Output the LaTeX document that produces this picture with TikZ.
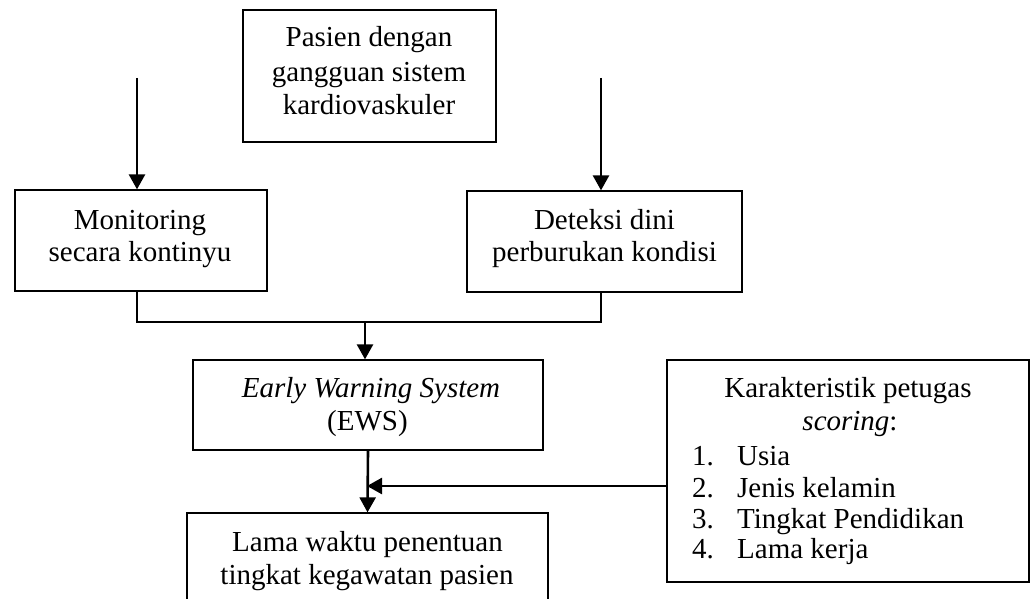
\documentclass[tikz,border=0pt]{standalone}
\usepackage{fontspec}
\setmainfont{Liberation Serif}
\usetikzlibrary{arrows.meta}
\begin{document}
\begin{tikzpicture}[x=1pt,y=-1pt,
  box/.style={draw,line width=1.3pt,inner sep=0pt},
  txt/.style={inner sep=0pt,font=\fontsize{29}{33}\selectfont},
  arr/.style={line width=2.6pt,-{Triangle[width=16pt,length=15pt]}},
  brk/.style={line width=1.7pt}]
\path[use as bounding box] (0,0) rectangle (1033,599);
\clip (0,0) rectangle (1033,599);
% boxes
\node[box,minimum width=253pt,minimum height=132pt] (pas) at (369.5,76) {};
\node[box,minimum width=252pt,minimum height=101pt] (mon) at (141,240.5) {};
\node[box,minimum width=275pt,minimum height=101pt] (det) at (604.5,241.5) {};
\node[box,minimum width=350pt,minimum height=90pt] (ews) at (368,405) {};
\node[box,minimum width=361pt,minimum height=92pt] (lam) at (367.5,559) {};
\node[box,minimum width=362pt,minimum height=222pt] (kar) at (848,471) {};
% texts
\node[txt,anchor=base] (p1) at (369,47) {Pasien dengan};
\node[txt,anchor=base] (p2) at (369,82) {gangguan sistem};
\node[txt,anchor=base] (p3) at (369,115) {kardiovaskuler};
\node[txt,anchor=base] (m1) at (140,229) {Monitoring};
\node[txt,anchor=base] (m2) at (140,261) {secara kontinyu};
\node[txt,anchor=base] (d1) at (604.5,229) {Deteksi dini};
\node[txt,anchor=base] (d2) at (604.5,261) {perburukan kondisi};
\node[txt,anchor=base] (e1) at (371,397) {\textit{Early Warning System}};
\node[txt,anchor=base] (e2) at (367.5,430) {(EWS)};
\node[txt,anchor=base] (l1) at (367.5,551) {Lama waktu penentuan};
\node[txt,anchor=base] (l2) at (367,584) {tingkat kegawatan pasien};
\node[txt,anchor=base] (k1) at (848,397) {Karakteristik petugas};
\node[txt,anchor=base] (k2) at (850,430) {\textit{scoring}:};
\node[txt,anchor=base west] (n1) at (692,465) {1.};
\node[txt,anchor=base west] (i1) at (737,465) {Usia};
\node[txt,anchor=base west] (n2) at (692,497) {2.};
\node[txt,anchor=base west] (i2) at (737,497) {Jenis kelamin};
\node[txt,anchor=base west] (n3) at (692,528) {3.};
\node[txt,anchor=base west] (i3) at (737,528) {Tingkat Pendidikan};
\node[txt,anchor=base west] (n4) at (692,558) {4.};
\node[txt,anchor=base west] (i4) at (737,558) {Lama kerja};
% connectors
\coordinate (s1) at (137,78);
\coordinate (s2) at (601,78);
\coordinate (br) at (365,322);
\coordinate (jn) at (367,486);
\draw[arr] (s1) -- (s1 |- mon.north);
\draw[arr] (s2) -- (s2 |- det.north);
\draw[brk] (s1 |- mon.south) |- (br) -| (s2 |- det.south);
\draw[arr] (br) -- (br |- ews.north);
\draw[arr] (ews.south) -- (lam.north);
\draw[arr] (kar.west |- jn) -- (jn);
\end{tikzpicture}
\end{document}
